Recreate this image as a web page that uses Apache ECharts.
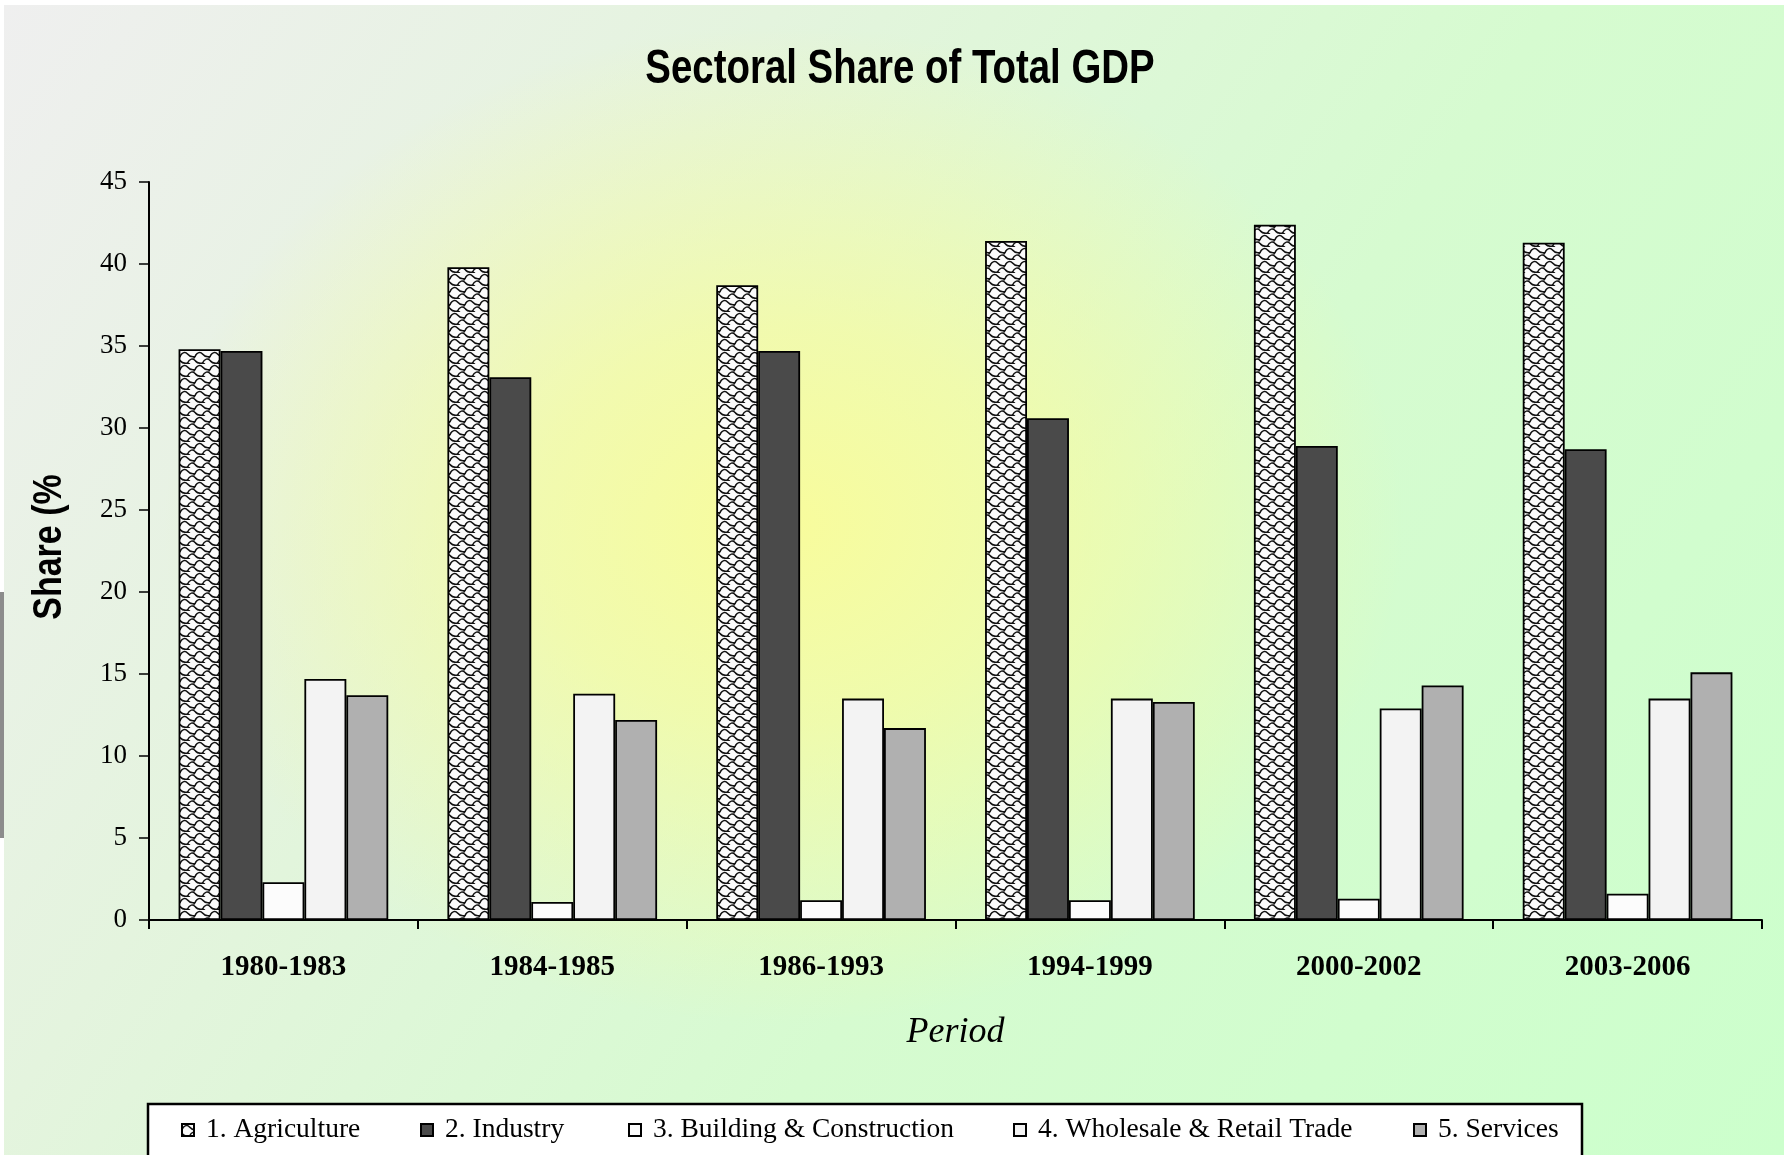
<!DOCTYPE html>
<html>
<head>
<meta charset="utf-8">
<script src="https://cdn.jsdelivr.net/npm/echarts@6/dist/echarts.min.js"></script>
<style>
  html, body { margin: 0; padding: 0; background: #ffffff; }
  #bg {
    position: absolute; left: 4px; top: 5px; width: 1780px; height: 1150px;
    background:
      radial-gradient(ellipse 620px 500px at 780px 520px, rgba(248,252,156,1) 0%, rgba(248,252,156,0.7) 40%, rgba(248,252,156,0) 100%),
      linear-gradient(125deg, #efefef 0%, #e4f4de 30%, #d6fbd0 60%, #ccffcc 100%);
  }
  #chart { position: absolute; left: 0; top: 0; width: 1784px; height: 1155px; }
</style>
</head>
<body>
<div id="bg"></div>
<div id="chart"></div>
<script>
// ---- data ----
const periods = ['1980-1983', '1984-1985', '1986-1993', '1994-1999', '2000-2002', '2003-2006'];
const seriesNames = ['1. Agriculture', '2. Industry', '3. Building & Construction', '4. Wholesale & Retail Trade', '5. Services'];
const agriculture = [34.8, 39.8, 38.7, 41.4, 42.4, 41.3];
const industry = [34.7, 33.1, 34.7, 30.6, 28.9, 28.7];
const building = [2.3, 1.1, 1.2, 1.2, 1.3, 1.6];
const wholesale = [14.7, 13.8, 13.5, 13.5, 12.9, 13.5];
const services = [13.7, 12.2, 11.7, 13.3, 14.3, 15.1];
const yTicks = [0, 5, 10, 15, 20, 25, 30, 35, 40, 45];

// ---- pattern for agriculture ----
function makePattern() {
  const c = document.createElement('canvas');
  c.width = 15; c.height = 13;
  const ctx = c.getContext('2d');
  ctx.fillStyle = '#fbfbfb';
  ctx.fillRect(0, 0, 15, 13);
  ctx.strokeStyle = '#111';
  ctx.lineWidth = 1.5;
  ctx.lineCap = 'round';
  ctx.beginPath();
  // upper row of shingles
  ctx.moveTo(0, 5.5);
  ctx.bezierCurveTo(2, 1, 5.5, 0.5, 7.5, 3);
  ctx.bezierCurveTo(9.5, 5.5, 13, 6, 15, 5.5);
  // lower row, offset by half tile
  ctx.moveTo(-7.5, 12);
  ctx.bezierCurveTo(-5.5, 7.5, -2, 7, 0, 9.5);
  ctx.bezierCurveTo(2, 12, 5.5, 12.5, 7.5, 12);
  ctx.bezierCurveTo(9.5, 7.5, 13, 7, 15, 9.5);
  ctx.stroke();
  ctx.beginPath();
  ctx.moveTo(7.5, 12); ctx.lineTo(9.5, 13);
  ctx.moveTo(0, 5.5); ctx.lineTo(-1, 7);
  ctx.moveTo(15, 5.5); ctx.lineTo(14, 7);
  ctx.stroke();
  return c;
}
const agriPattern = { image: makePattern(), repeat: 'repeat' };

const fills = [agriPattern, '#4a4a4a', '#fcfcfc', '#f3f3f3', '#b0b0b0'];
const values = [agriculture, industry, building, wholesale, services];

const chart = echarts.init(document.getElementById('chart'), null, { renderer: 'canvas' });

const legendLefts = [181, 420, 628, 1013, 1413];
const legends = seriesNames.map((n, i) => ({
  data: [n],
  left: legendLefts[i],
  top: 1116,
  padding: 0,
  itemWidth: 12,
  itemHeight: 12,
  icon: 'rect',
  selectedMode: false,
  textStyle: { fontFamily: 'Liberation Serif, Times New Roman, serif', fontSize: 27.5, color: '#000', padding: [0, 0, 0, 7] }
}));

const option = {
  animation: false,
  backgroundColor: 'transparent',
  graphic: [
    { type: 'rect', shape: { x: 0, y: 592, width: 4, height: 246 }, style: { fill: '#8c8c8c' }, z: 100 },
    { type: 'rect', shape: { x: 148, y: 1104, width: 1434, height: 70 }, style: { fill: '#ffffff', stroke: '#000', lineWidth: 2.5 }, z: 0 },
    { type: 'text', x: 900, y: 70, scaleX: 0.8, style: { text: 'Sectoral Share of Total GDP', fontFamily: "'Liberation Sans', Arial, sans-serif", fontWeight: 'bold', fontSize: 48, fill: '#000', align: 'center', verticalAlign: 'middle' } },
    { type: 'text', x: 50, y: 547, rotation: Math.PI / 2, scaleX: 0.85, style: { text: 'Share (%', fontFamily: "'Liberation Sans', Arial, sans-serif", fontWeight: 'bold', fontSize: 40, fill: '#000', align: 'center', verticalAlign: 'middle' } }
  ],
  legend: legends,
  grid: { left: 149, right: 22, top: 182, bottom: 235, containLabel: false },
  xAxis: {
    type: 'category',
    data: periods,
    axisLine: { lineStyle: { color: '#000', width: 2 } },
    axisTick: { show: true, length: 9, lineStyle: { color: '#000', width: 2 } },
    axisLabel: { color: '#000', fontFamily: 'Liberation Serif, Times New Roman, serif', fontWeight: 'bold', fontSize: 29, margin: 33 },
    name: 'Period',
    nameLocation: 'middle',
    nameGap: 95,
    nameTextStyle: { fontFamily: 'Liberation Serif, Times New Roman, serif', fontStyle: 'italic', fontSize: 36, color: '#000' }
  },
  yAxis: {
    type: 'value',
    min: yTicks[0],
    max: yTicks[yTicks.length - 1],
    interval: 5,
    splitLine: { show: false },
    axisLine: { show: true, lineStyle: { color: '#000', width: 2 } },
    axisTick: { show: true, length: 10, lineStyle: { color: '#000', width: 1.5 } },
    axisLabel: { color: '#000', fontFamily: 'Liberation Serif, Times New Roman, serif', fontSize: 27, margin: 22 }
  },
  series: seriesNames.map((n, i) => ({
    name: n,
    type: 'bar',
    data: values[i],
    barGap: '0%',
    barCategoryGap: '22%',
    itemStyle: { color: fills[i], borderColor: '#000', borderWidth: 1.8 },
    emphasis: { disabled: true }
  }))
};
chart.setOption(option);
</script>
</body>
</html>
